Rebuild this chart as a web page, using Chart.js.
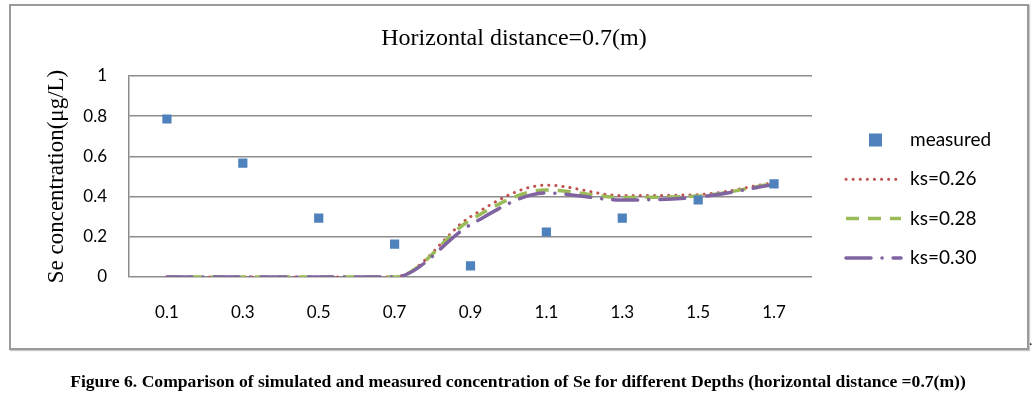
<!DOCTYPE html>
<html>
<head>
<meta charset="utf-8">
<script src="https://cdn.jsdelivr.net/npm/chart.js@4"></script>
<style>
  body { margin: 0; background: #fff; }
  #wrap { position: relative; width: 1036px; height: 397px; }
  #frame { position: absolute; left: 9px; top: 4px; width: 1016px; height: 342px; border: 2px solid #9a9a9a; box-shadow: 1px 1px 1px #c8c8c8; }
  canvas { position: absolute; left: 0; top: 0; }
  #titulo { position: absolute; left: 414px; width: 200px; top: 23px; text-align: center; white-space: nowrap;
    display: flex; justify-content: center; font: 24px 'Liberation Serif', serif; line-height: 28px; }
  #dot { position: absolute; left: 1029px; top: 333px; font: 14px 'Liberation Serif', serif; }
  #caption { position: absolute; left: 0; width: 1036px; top: 371px; text-align: center;
    font: bold 17.6px 'Liberation Serif', serif; white-space: nowrap; }
</style>
</head>
<body>
<div id="wrap">
  <div id="frame"></div>
  <canvas id="chart" width="1036" height="397"></canvas>
  <div id="titulo">Horizontal distance=0.7(m)</div>
  <div id="dot">.</div>
  <div id="caption">Figure 6. Comparison of simulated and measured concentration of Se for different Depths (horizontal distance =0.7(m))</div>
</div>
<script>
// Datos
const profundidades = ['0.1', '0.3', '0.5', '0.7', '0.9', '1.1', '1.3', '1.5', '1.7'];
const medido = [0.786, 0.567, 0.293, 0.164, 0.055, 0.224, 0.293, 0.383, 0.463];
const ks026 = [0, 0, 0, 0, 0.30, 0.457, 0.405, 0.41, 0.47];
const ks028 = [0, 0, 0, 0, 0.284, 0.433, 0.396, 0.403, 0.465];
const ks030 = [0, 0, 0, 0, 0.26, 0.418, 0.383, 0.398, 0.46];
const etiquetas = ['measured', 'ks=0.26', 'ks=0.28', 'ks=0.30'];

const tickFont = { family: 'Lato', size: 17 };

// Leyenda dibujada a mano a la derecha
const leyendaPlugin = {
  id: 'leyenda',
  afterDraw(chart) {
    const ctx = chart.ctx;
    const area = chart.chartArea;
    const x0 = area.right + 34;
    const xt = area.right + 98;
    ctx.save();
    ctx.font = '19px Lato';
    ctx.textBaseline = 'middle';
    chart.data.datasets.forEach((ds, i) => {
      const y = area.top + 64 + i * 39.3;
      if (i === 0) {
        ctx.fillStyle = ds.backgroundColor;
        ctx.fillRect(x0 + 23, y - 6.5, 13, 13);
      } else {
        ctx.strokeStyle = ds.borderColor;
        ctx.lineWidth = ds.borderWidth;
        ctx.lineCap = ds.borderCapStyle;
        ctx.setLineDash(ds.borderDash);
        ctx.beginPath();
        ctx.moveTo(x0, y);
        ctx.lineTo(x0 + 55, y);
        ctx.stroke();
        ctx.setLineDash([]);
      }
      ctx.fillStyle = '#000';
      ctx.fillText(etiquetas[i], xt, y);
    });
    ctx.restore();
  }
};

new Chart(document.getElementById('chart'), {
  type: 'line',
  data: {
    labels: profundidades,
    datasets: [
      {
        label: etiquetas[0], data: medido, showLine: false, order: 0,
        pointStyle: 'rect', pointRadius: 6.5, pointHoverRadius: 6.5,
        backgroundColor: '#4F81BD', borderColor: '#4F81BD', pointBorderWidth: 0
      },
      {
        label: etiquetas[1], data: ks026, order: 3, pointRadius: 0,
        borderColor: '#C0504D', borderWidth: 3, borderDash: [0.1, 7], borderCapStyle: 'round'
      },
      {
        label: etiquetas[2], data: ks028, order: 2, pointRadius: 0,
        borderColor: '#9BBB59', borderWidth: 3.5, borderDash: [13, 9], borderCapStyle: 'butt'
      },
      {
        label: etiquetas[3], data: ks030, order: 1, pointRadius: 0,
        borderColor: '#8064A2', borderWidth: 3.5, borderDash: [25, 11, 0.1, 11], borderCapStyle: 'round'
      }
    ]
  },
  options: {
    responsive: false,
    animation: false,
    layout: { padding: { left: 40, right: 224, top: 76, bottom: 60 } },
    elements: { line: { cubicInterpolationMode: 'monotone', fill: false } },
    plugins: {
      legend: { display: false },
      tooltip: { enabled: false },
      title: { display: false }
    },
    scales: {
      x: {
        offset: true,
        grid: { display: false, drawTicks: false },
        border: { display: false },
        ticks: { color: '#000', font: tickFont, padding: 25 },
        afterFit(scale) { scale.height = 60; }
      },
      y: {
        min: 0, max: 1,
        grid: { color: '#8c8c8c', lineWidth: 1.5, drawTicks: false },
        border: { display: true, color: '#8c8c8c', width: 1.5 },
        ticks: {
          stepSize: 0.2, color: '#000', font: tickFont, padding: 22,
          callback: (v) => Math.round(v * 10) / 10
        },
        title: {
          display: true,
          text: 'Se concentration(μg/L)',
          color: '#000',
          font: { family: 'Liberation Serif', size: 23 },
          padding: { top: 3, bottom: 0 }
        },
        afterFit(scale) { scale.width = 89; }
      }
    }
  },
  plugins: [leyendaPlugin]
});
</script>
</body>
</html>
